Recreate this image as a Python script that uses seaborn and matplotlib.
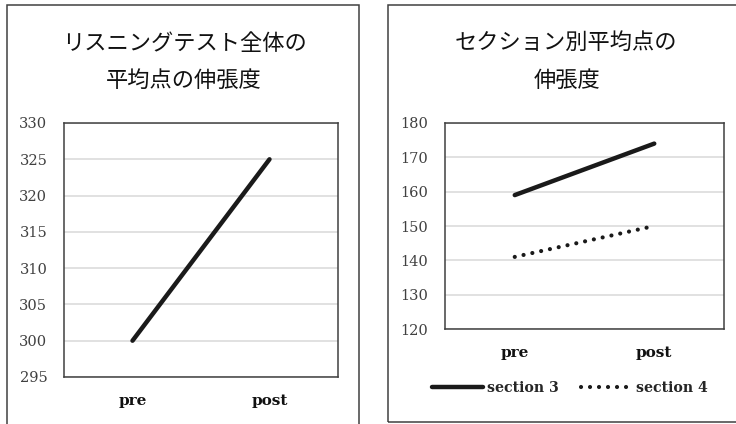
import matplotlib
matplotlib.use("Agg")
import matplotlib.pyplot as plt
from matplotlib.patches import Rectangle
from matplotlib.lines import Line2D
import seaborn as sns
import pandas as pd

# ---- data ----
phases = ["pre", "post"]
total_scores = [300, 325]
section3_scores = [159, 174]
section4_scores = [141, 150]
left_title = ["リスニングテスト全体の", "平均点の伸張度"]
right_title = ["セクション別平均点の", "伸張度"]
left_yticks = [295, 300, 305, 310, 315, 320, 325, 330]
right_yticks = [120, 130, 140, 150, 160, 170, 180]
series_names = ["section 3", "section 4"]

sns.set_theme(style="white")
plt.rcParams["font.family"] = ["DejaVu Serif", "Noto Sans CJK JP"]

W, H = 736, 424
fig = plt.figure(figsize=(W / 100, H / 100), dpi=100)
fig.patch.set_facecolor("white")

def fx(px):
    return px / W

def fy(py):
    return 1 - py / H

DOT = (0, (0.01, 2.15))

# panel frames
for (x0, y0, x1, y1) in [(7, 5, 359, 425), (388, 5, 740, 422)]:
    fig.patches.append(Rectangle((fx(x0), fy(y1)), fx(x1 - x0), (y1 - y0) / H,
                                 transform=fig.transFigure, fill=False,
                                 edgecolor="#404040", lw=1.1, zorder=0))

def style_axes(ax, yticks):
    ax.set_ylim(yticks[0], yticks[-1])
    ax.set_yticks(yticks)
    ax.set_xlim(-0.5, 1.5)
    ax.set_xticks([0, 1])
    ax.set_xticklabels(phases, fontweight="bold", fontsize=11, color="#111111",
                       family="DejaVu Serif")
    ax.tick_params(axis="y", length=0, pad=12, labelsize=10.5, labelcolor="#404040")
    ax.tick_params(axis="x", length=0, pad=12)
    for lab in ax.get_yticklabels():
        lab.set_family("DejaVu Serif")
    ax.grid(axis="y", color="#d9d9d9", lw=1.1)
    ax.grid(axis="x", visible=False)
    for s in ax.spines.values():
        s.set_visible(True)
        s.set_color("#404040")
        s.set_linewidth(1.1)
    ax.set_xlabel("")
    ax.set_ylabel("")

# left chart
axL = fig.add_axes([fx(64), fy(377), fx(338 - 64), (377 - 123) / H])
dfL = pd.DataFrame({"phase": phases, "score": total_scores})
sns.lineplot(data=dfL, x="phase", y="score", ax=axL, color="#1a1a1a", lw=3.2,
             sort=False)
for ln in axL.get_lines():
    ln.set_solid_capstyle("round")
style_axes(axL, left_yticks)

# right chart
axR = fig.add_axes([fx(445), fy(329), fx(724 - 445), (329 - 123) / H])
dfR = pd.DataFrame({
    "phase": phases * 2,
    "score": section3_scores + section4_scores,
    "series": [series_names[0]] * 2 + [series_names[1]] * 2,
})
sns.lineplot(data=dfR, x="phase", y="score", hue="series", style="series",
             palette=["#1a1a1a", "#1a1a1a"],
             dashes={series_names[0]: "", series_names[1]: DOT[1]},
             ax=axR, lw=3.2, sort=False, legend=False)
lines = axR.get_lines()
lines[0].set_solid_capstyle("round")
lines[1].set_linewidth(3.0)
lines[1].set_linestyle(DOT)
lines[1].set_dash_capstyle("round")
style_axes(axR, right_yticks)

handles = [Line2D([], [], color="#1a1a1a", lw=3.2, solid_capstyle="round"),
           Line2D([], [], color="#1a1a1a", lw=3.0, linestyle=DOT,
                  dash_capstyle="round")]
leg = axR.legend(handles, series_names, loc="center", ncol=2,
                 bbox_to_anchor=(fx(570), fy(388)), bbox_transform=fig.transFigure,
                 frameon=False, handlelength=3.6, handletextpad=0.25,
                 columnspacing=1.6, prop={"family": "DejaVu Serif", "weight": "bold",
                                          "size": 10.2})

# titles
tkw = dict(ha="center", va="center", fontsize=16, color="#111111",
           family=["Noto Sans CJK JP", "DejaVu Sans"])
fig.text(fx(184), fy(43), left_title[0], **tkw)
fig.text(fx(184), fy(80), left_title[1], **tkw)
fig.text(fx(566), fy(42), right_title[0], **tkw)
fig.text(fx(567), fy(80), right_title[1], **tkw)

fig.savefig("out.png", dpi=100, facecolor="white")
